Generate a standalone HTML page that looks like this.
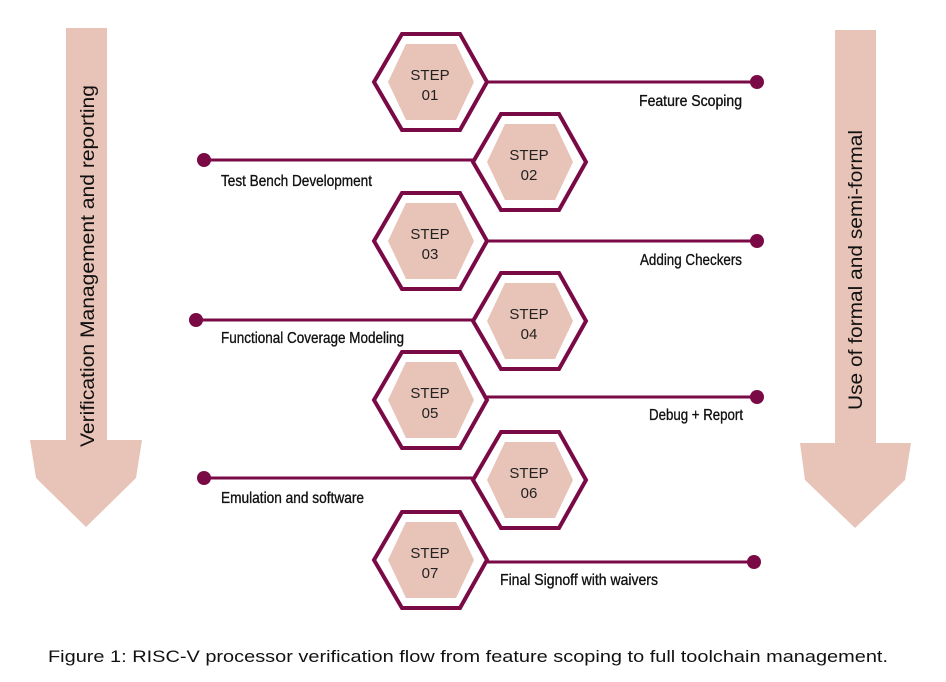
<!DOCTYPE html>
<html><head><meta charset="utf-8"><style>
html,body{margin:0;padding:0;background:#fff;width:946px;height:682px;overflow:hidden}
svg{display:block}
</style></head><body>
<svg width="946" height="682" viewBox="0 0 946 682" xmlns="http://www.w3.org/2000/svg" font-family="Liberation Sans, sans-serif">
<polygon points="66,28 107,28 107,440 142,440 136,478 86,527 36,478 30,440 66,440" fill="#e8c3b7"/>
<polygon points="835,30 876,30 876,443 911,443 905,480 855,528 805,480 800,443 835,443" fill="#e8c3b7"/>
<text transform="translate(94,266) rotate(-90)" text-anchor="middle" font-size="19" fill="#111" textLength="362" lengthAdjust="spacingAndGlyphs">Verification Management and reporting</text>
<text transform="translate(862,270) rotate(-90)" text-anchor="middle" font-size="19" fill="#111" textLength="280" lengthAdjust="spacingAndGlyphs">Use of formal and semi-formal</text>
<g stroke="#7a0a45" stroke-width="3" fill="none">
<line x1="487" y1="82" x2="757" y2="82"/>
<line x1="204" y1="160" x2="473" y2="160"/>
<line x1="487" y1="241" x2="757" y2="241"/>
<line x1="196" y1="320" x2="473" y2="320"/>
<line x1="487" y1="397" x2="757" y2="397"/>
<line x1="204" y1="478" x2="473" y2="478"/>
<line x1="487" y1="562" x2="754" y2="562"/>
</g>
<g fill="#7a0a45">
<circle cx="757" cy="82" r="7"/><circle cx="204" cy="160" r="7"/><circle cx="757" cy="241" r="7"/>
<circle cx="196" cy="320" r="7"/><circle cx="757" cy="397" r="7"/><circle cx="204" cy="478" r="7"/>
<circle cx="754" cy="562" r="7"/>
</g>
<defs>
<g id="hx">
<polygon points="-56,0 -28,-48 30,-48 57,0 30,48 -28,48" fill="#fff" stroke="#7a0a45" stroke-width="4" stroke-linejoin="miter"/>
<polygon points="-42,0 -24,-38 26,-38 44,0 26,38 -24,38" fill="#e8c3b7"/>
</g>
</defs>
<g font-size="15" fill="#222" text-anchor="middle">
<g transform="translate(430,82)"><use href="#hx"/><text x="0" y="-2">STEP</text><text x="0" y="18">01</text></g>
<g transform="translate(529,162)"><use href="#hx"/><text x="0" y="-2">STEP</text><text x="0" y="18">02</text></g>
<g transform="translate(430,241)"><use href="#hx"/><text x="0" y="-2">STEP</text><text x="0" y="18">03</text></g>
<g transform="translate(529,321)"><use href="#hx"/><text x="0" y="-2">STEP</text><text x="0" y="18">04</text></g>
<g transform="translate(430,400)"><use href="#hx"/><text x="0" y="-2">STEP</text><text x="0" y="18">05</text></g>
<g transform="translate(529,480)"><use href="#hx"/><text x="0" y="-2">STEP</text><text x="0" y="18">06</text></g>
<g transform="translate(430,560)"><use href="#hx"/><text x="0" y="-2">STEP</text><text x="0" y="18">07</text></g>
</g>
<g font-size="16" fill="#111" stroke="#111" stroke-width="0.35">
<text x="639" y="106" textLength="103" lengthAdjust="spacingAndGlyphs">Feature  Scoping</text>
<text x="221" y="186" textLength="151" lengthAdjust="spacingAndGlyphs">Test Bench Development</text>
<text x="640" y="265" textLength="102" lengthAdjust="spacingAndGlyphs">Adding Checkers</text>
<text x="221" y="343" textLength="183" lengthAdjust="spacingAndGlyphs">Functional Coverage Modeling</text>
<text x="649" y="420" textLength="94" lengthAdjust="spacingAndGlyphs">Debug + Report</text>
<text x="221" y="503" textLength="143" lengthAdjust="spacingAndGlyphs">Emulation and software</text>
<text x="500" y="585" textLength="158" lengthAdjust="spacingAndGlyphs">Final Signoff with waivers</text>
</g>
<text x="468" y="662" text-anchor="middle" font-size="17" fill="#111" textLength="840" lengthAdjust="spacingAndGlyphs">Figure 1: RISC-V processor verification flow from feature scoping to full toolchain management.</text>
</svg>
</body></html>
